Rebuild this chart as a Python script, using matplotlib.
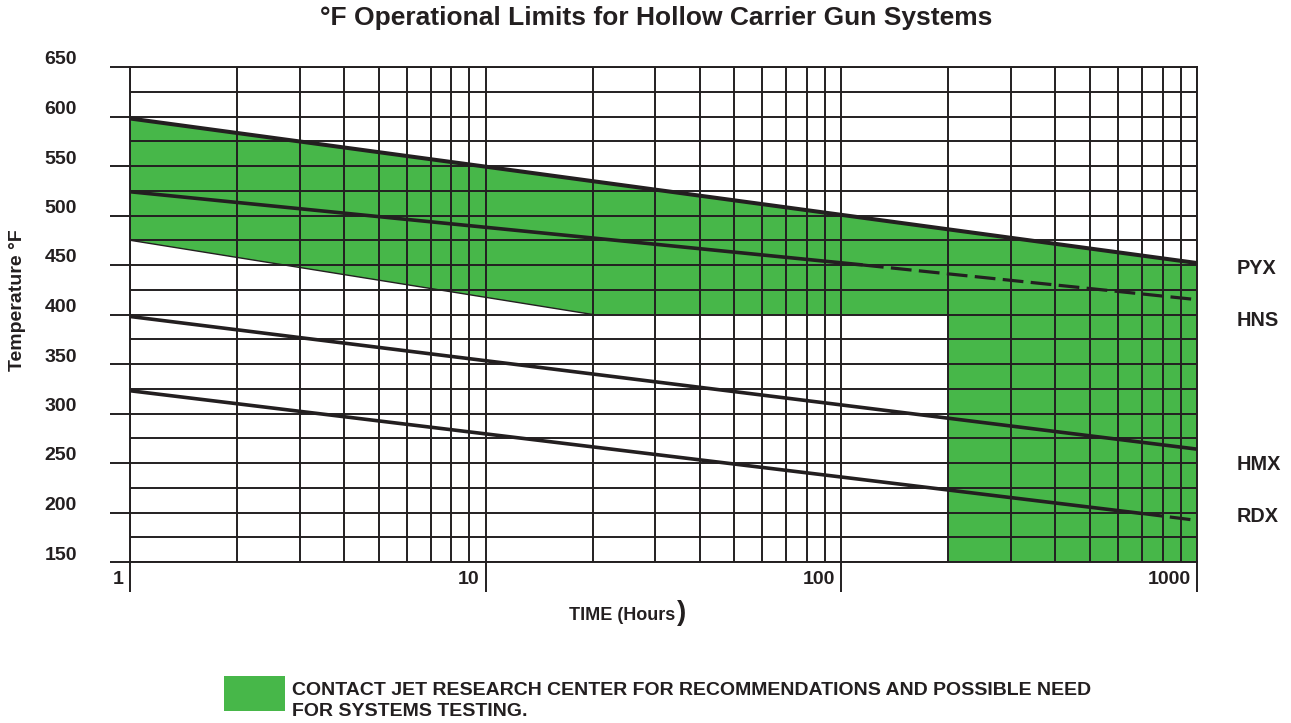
import matplotlib
matplotlib.use("Agg")
import matplotlib.pyplot as plt
from matplotlib.patches import Rectangle
from matplotlib.transforms import offset_copy
from matplotlib.ticker import FixedLocator, NullFormatter

plt.rcParams['font.family'] = ['Liberation Sans', 'DejaVu Sans']
plt.rcParams['font.weight'] = 'bold'

INK = '#231f20'
GREEN = '#47b749'

# data (hours, deg F)
pyx_hours = [1, 1000]
pyx_temps = [598, 452]

hns_hours = [1, 115]
hns_temps = [524, 450]
hns_ext_hours = [115, 1000]
hns_ext_temps = [450, 415]

hmx_hours = [1, 1000]
hmx_temps = [398, 264]

rdx_hours = [1, 700]
rdx_temps = [323, 199]
rdx_ext_hours = [700, 1000]
rdx_ext_temps = [199, 192]

zone_hours = [1, 1000, 1000, 200, 200, 20, 1]
zone_temps = [598, 452, 150, 150, 400, 400, 475]
zone_edge_hours = [1, 20]
zone_edge_temps = [475, 400]

y_ticks = [150, 200, 250, 300, 350, 400, 450, 500, 550, 600, 650]
x_ticks = [1, 10, 100, 1000]
x_tick_labels = ['1', '10', '100', '1000']
series_labels = ['PYX', 'HNS', 'HMX', 'RDX']

W, H = 1291, 723


def fx(x):
    return x / W


def fy(y):
    return 1 - y / H


fig = plt.figure(figsize=(W / 100, H / 100), dpi=100)
ax = fig.add_axes([fx(130), fy(562), (1197 - 130) / W, (562 - 67) / H])
ax.set_xscale('log')
ax.set_xlim(1, 1000)
ax.set_ylim(150, 650)

# green zone
ax.fill(zone_hours, zone_temps, color=GREEN, lw=0, zorder=1)
ax.plot(zone_edge_hours, zone_edge_temps, color=INK, lw=1.0, zorder=3)

# grid
ax.yaxis.set_major_locator(FixedLocator(y_ticks))
ax.yaxis.set_minor_locator(FixedLocator(list(range(175, 650, 50))))
ax.xaxis.set_major_locator(FixedLocator(x_ticks))
ax.grid(which='both', color=INK, lw=1.4, zorder=2)
ax.set_axisbelow(False)
for s in ax.spines.values():
    s.set_color(INK)
    s.set_linewidth(1.4)

ax.tick_params(axis='y', which='major', length=14.4, width=1.4, color=INK,
               labelleft=False)
ax.tick_params(axis='x', which='major', length=21.6, width=1.4, color=INK,
               labelbottom=False)
ax.tick_params(which='minor', length=0)
ax.xaxis.set_minor_formatter(NullFormatter())

# series
ax.plot(pyx_hours, pyx_temps, color=INK, lw=2.9, zorder=4, solid_capstyle='butt')
ax.plot(hns_hours, hns_temps, color=INK, lw=2.6, zorder=4, solid_capstyle='butt')
ax.plot(hns_ext_hours, hns_ext_temps, color=INK, lw=2.3, zorder=4,
        dashes=(6.5, 2.3))
ax.plot(hmx_hours, hmx_temps, color=INK, lw=2.6, zorder=4, solid_capstyle='butt')
ax.plot(rdx_hours, rdx_temps, color=INK, lw=2.6, zorder=4, solid_capstyle='butt')
ax.plot(rdx_ext_hours, rdx_ext_temps, color=INK, lw=2.3, zorder=4,
        dashes=(6.5, 2.3))

# tick labels
ylab_tr = offset_copy(ax.get_yaxis_transform(), fig=fig, x=-53, y=7, units='dots')
for v in y_ticks:
    ax.text(0, v, str(v), transform=ylab_tr, ha='right', va='center',
            fontsize=14, fontweight='bold', color=INK)

xlab_tr = offset_copy(ax.get_xaxis_transform(), fig=fig, x=-6, y=-18, units='dots')
for v, s in zip(x_ticks, x_tick_labels):
    ax.text(v, 0, s, transform=xlab_tr, ha='right', va='center',
            fontsize=14, fontweight='bold', color=INK)

# right-side labels
for s, y in zip(series_labels, [268, 321, 464, 516]):
    fig.text(fx(1237), fy(y), s, ha='left', va='center', fontsize=14.3,
             fontweight='bold', color=INK)

fig.text(fx(656), fy(18), '°F Operational Limits for Hollow Carrier Gun Systems',
         ha='center', va='center', fontsize=19, fontweight='bold', color=INK)
fig.text(fx(622), fy(615), 'TIME (Hours', ha='center', va='center',
         fontsize=13, fontweight='bold', color=INK)
fig.text(fx(677), fy(613), ')', ha='left', va='center',
         fontsize=20, fontweight='bold', color=INK)
fig.text(fx(18), fy(300), 'Temperature °F', ha='center', va='center',
         rotation=90, fontsize=14, fontweight='bold', color=INK)

# legend
fig.add_artist(Rectangle((fx(224), fy(711)), 61 / W, 35 / H,
                         transform=fig.transFigure, color=GREEN, lw=0))
fig.text(fx(292), fy(701),
         'CONTACT JET RESEARCH CENTER FOR RECOMMENDATIONS AND POSSIBLE NEED\n'
         'FOR SYSTEMS TESTING.',
         ha='left', va='center', fontsize=14, fontweight='bold', color=INK,
         linespacing=1.3)

fig.savefig('out.png', dpi=100)
